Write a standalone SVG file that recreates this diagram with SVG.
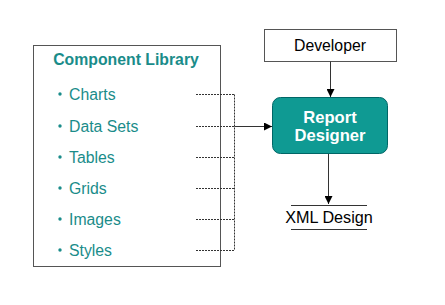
<svg xmlns="http://www.w3.org/2000/svg" width="445" height="305" viewBox="0 0 445 305">
<defs>
<style>
.lib{fill:#fff;stroke:#555;stroke-width:1}
.item{font-family:"Liberation Sans",Arial,sans-serif;font-size:15.8px;fill:#1a8c8a}
.title{font-family:"Liberation Sans",Arial,sans-serif;font-size:15.8px;font-weight:bold;fill:#1a8c8a}
.blk{font-family:"Liberation Sans",Arial,sans-serif;font-size:15.8px;fill:#000}
.xml{font-family:"Liberation Sans",Arial,sans-serif;font-size:16.2px;fill:#000}
.wht{font-family:"Liberation Sans",Arial,sans-serif;font-size:16.6px;font-weight:bold;fill:#fff}
.dot{stroke:#333;stroke-width:1;stroke-dasharray:2,1;fill:none}
.sol{stroke:#333;stroke-width:1;fill:none}
</style>
<marker id="ah" viewBox="0 0 10 10" refX="10" refY="5" markerWidth="8" markerHeight="8" markerUnits="userSpaceOnUse" orient="auto">
<path d="M0,0 L10,5 L0,10 z" fill="#000"/>
</marker>
</defs>
<rect width="445" height="305" fill="#fff"/>
<g id="library">
<rect class="lib" x="33.5" y="45.5" width="187" height="221"/>
<text class="title" x="126" y="65" text-anchor="middle">Component Library</text>
<g class="item">
<circle cx="60" cy="94" r="1.7" fill="#1a8c8a"/><text x="69" y="99.5">Charts</text>
<circle cx="60" cy="126" r="1.7" fill="#1a8c8a"/><text x="69" y="131.5">Data Sets</text>
<circle cx="60" cy="157" r="1.7" fill="#1a8c8a"/><text x="69" y="162.5">Tables</text>
<circle cx="60" cy="188" r="1.7" fill="#1a8c8a"/><text x="69" y="193.5">Grids</text>
<circle cx="60" cy="219" r="1.7" fill="#1a8c8a"/><text x="69" y="224.5">Images</text>
<circle cx="60" cy="250" r="1.7" fill="#1a8c8a"/><text x="69" y="255.5">Styles</text>
</g>
</g>
<g id="developer">
<rect x="264.5" y="29.5" width="132" height="32" fill="#fff" stroke="#555"/>
<text class="blk" x="330" y="51" text-anchor="middle">Developer</text>
</g>
<g id="report-designer">
<rect x="272.5" y="97.5" width="115" height="56" rx="8" fill="#0f9a93" stroke="#066"/>
<text class="wht" x="330" y="122.5" text-anchor="middle">Report</text>
<text class="wht" x="330" y="141" text-anchor="middle">Designer</text>
</g>
<g id="xml-design">
<line x1="291" y1="205.5" x2="367" y2="205.5" stroke="#333"/>
<line x1="291" y1="229.5" x2="367" y2="229.5" stroke="#333"/>
<text class="xml" x="329" y="223" text-anchor="middle">XML Design</text>
</g>
<g id="connectors">
<path class="dot" d="M196,94.5 H234.5 M196,126.5 H234.5 M196,157.5 H234.5 M196,188.5 H234.5 M196,219.5 H234.5 M196,250.5 H234.5 M234.5,94.5 V250.5"/>
<line class="sol" x1="234.5" y1="126.5" x2="272" y2="126.5" marker-end="url(#ah)"/>
<line class="sol" x1="330.5" y1="61.5" x2="330.5" y2="97" marker-end="url(#ah)"/>
<line class="sol" x1="328.5" y1="154" x2="328.5" y2="204" marker-end="url(#ah)"/>
</g>
</svg>
